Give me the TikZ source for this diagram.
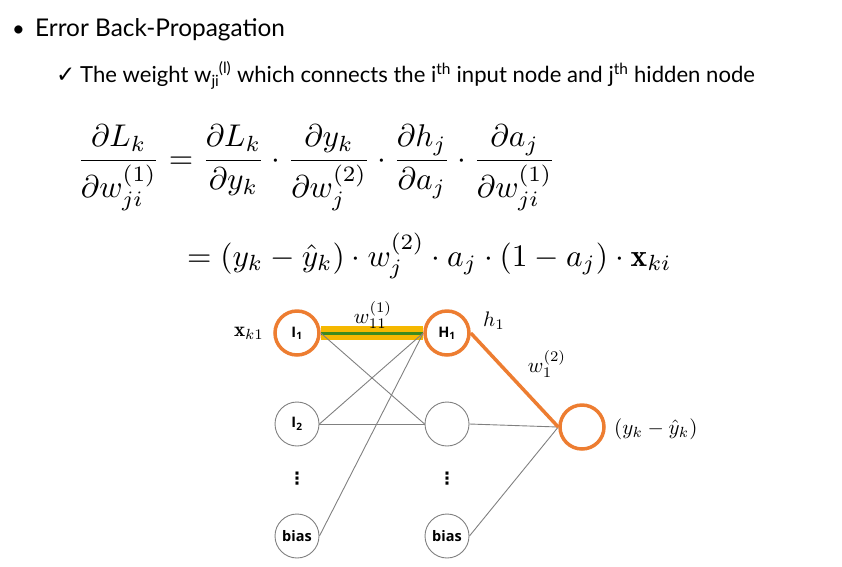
\documentclass[tikz,border=0pt]{standalone}
\usepackage{amsmath}
\usepackage{graphicx}
\usepackage{fontspec}
\newfontfamily\slidefont{Lato}
\newfontfamily\nodefont{Open Sans}
\newfontfamily\symfont{DejaVu Sans}
\definecolor{hot}{HTML}{ED7D31}
\definecolor{marker}{HTML}{F5B800}
\definecolor{mgreen}{HTML}{3C8A1E}
\definecolor{wire}{HTML}{808080}
\newcommand\bigmath[2]{\scalebox{#1}{$\displaystyle #2$}}
\pgfdeclarelayer{bg}
\pgfsetlayers{bg,main}
\tikzset{
  neuron/.style={circle, draw=wire, line width=0.9pt, fill=white, minimum size=44pt, inner sep=0pt,
    font=\nodefont\bfseries\fontsize{14.5}{16}\selectfont},
  hotneuron/.style={neuron, draw=hot, line width=3.5pt},
  conn/.style={draw=wire, line width=0.9pt},
  hotconn/.style={draw=hot, line width=3.5pt},
  mlabel/.style={inner sep=0pt},
  dotsnode/.style={inner sep=0pt, font=\symfont\bfseries\fontsize{17}{20}\selectfont},
  slidetext/.style={anchor=base west, inner sep=0pt, font=\slidefont},
}
\begin{document}
\begin{tikzpicture}[x=1pt, y=-1pt]
\useasboundingbox (0,0) rectangle (842,566);
% header
\node[slidetext, font=\slidefont\fontsize{22}{26}\selectfont] (bul) at (12,36) {\textbullet};
\node[slidetext, font=\slidefont\fontsize{24.4}{28}\selectfont] (title) at (35,36) {Error Back-Propagation};
\node[slidetext, font=\symfont\fontsize{23}{26}\selectfont] (chk) at (56,82) {\char"2713};
\node[slidetext, font=\slidefont\fontsize{22.1}{26}\selectfont] (sub) at (80,82)
  {The weight w\textsubscript{ji}\kern-0.5pt\raisebox{1pt}{\textsuperscript{(l)}} which connects the i\textsuperscript{th} input node and j\textsuperscript{th} hidden node};
% equations
\node[anchor=base west, inner sep=0pt] (eq1) at (77,168)
  {\bigmath{3.14}{\frac{\partial L_k}{\partial w_{ji}^{(1)}} = \frac{\partial L_k}{\partial y_k}\cdot\frac{\partial y_k}{\partial w_j^{(2)}}\cdot\frac{\partial h_j}{\partial a_j}\cdot\frac{\partial a_j}{\partial w_{ji}^{(1)}}}};
\node[anchor=base west, inner sep=0pt] (eq2) at (187,266)
  {\bigmath{3.14}{= (y_k-\hat{y}_k)\cdot w_j^{(2)}\cdot a_j\cdot(1-a_j)\cdot\mathbf{x}_{ki}}};
% network
\node[hotneuron] (i1) at (297,333) {I\textsubscript{1}};
\node[neuron] (i2) at (297,424) {I\textsubscript{2}};
\node[neuron] (ib) at (297,536) {bias};
\node[hotneuron] (h1) at (447,333) {H\textsubscript{1}};
\node[neuron] (h2) at (447,424) {};
\node[neuron] (hb) at (447,536) {bias};
\node[hotneuron] (out) at (582,427) {};
\node[dotsnode] (idots) at (297,479) {\char"22EE};
\node[dotsnode] (hdots) at (447,479) {\char"22EE};
\begin{pgfonlayer}{bg}
\draw[line width=14pt, marker] (i1.east) -- (h1.west);
\draw[line width=3pt, mgreen] (i1.east) -- (h1.west);
\draw[conn] (i1.east) -- (h2.west);
\draw[conn] (i2.east) -- (h1.west);
\draw[conn] (i2.east) -- (h2.west);
\draw[conn] (ib.east) -- (h1.west);
\draw[conn] (h2.east) -- (out.west);
\draw[conn] (hb.east) -- (out.west);
\draw[hotconn] (h1.east) -- (out.west);
\end{pgfonlayer}
% labels
\node[mlabel] (lx) at (249,333) {\bigmath{2.1}{\mathbf{x}_{k1}}};
\node[mlabel] (lw1) at (373,315) {\bigmath{2.1}{w_{11}^{(1)}}};
\node[mlabel] (lh) at (494,321) {\bigmath{2.1}{h_1}};
\node[mlabel] (lw2) at (547,364) {\bigmath{2.1}{w_1^{(2)}}};
\node[mlabel, anchor=west] (ly) at (614,429) {\bigmath{2.1}{(y_k-\hat{y}_k)}};
\end{tikzpicture}
\end{document}
